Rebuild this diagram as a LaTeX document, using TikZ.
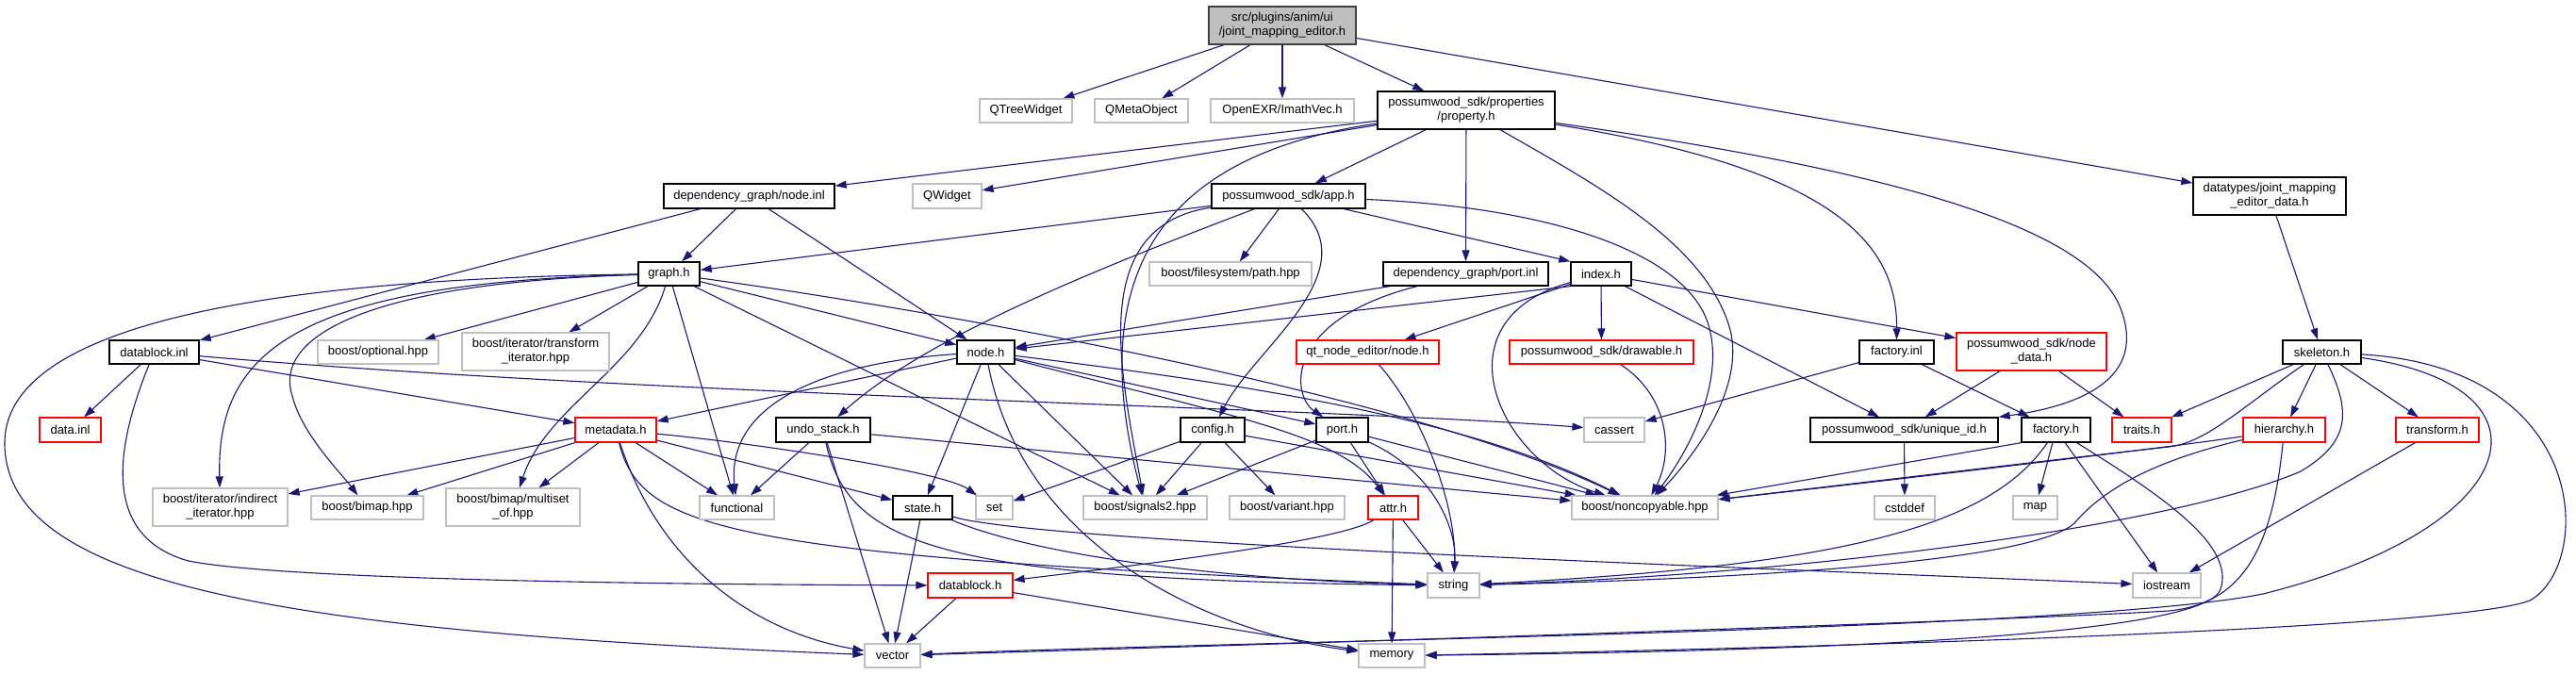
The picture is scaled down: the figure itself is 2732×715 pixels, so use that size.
\documentclass[tikz,border=0pt]{standalone}
\usepackage{fontspec}
\newfontfamily\lsans{Liberation Sans}
\usetikzlibrary{arrows.meta}
\definecolor{edgeblue}{HTML}{191970}
\definecolor{lgray}{HTML}{BFBFBF}
\definecolor{dgray}{HTML}{404040}
\definecolor{rootgray}{HTML}{BFBFBF}
\definecolor{redb}{HTML}{FF0000}
\pgfdeclarelayer{bg}
\pgfsetlayers{bg,main}
\tikzset{
  base/.style={rectangle, inner sep=0pt, font=\lsans\fontsize{13}{15}\selectfont, align=center, fill=white, text=black},
  bn/.style={base, draw=black, line width=1.4pt},
  gn/.style={base, draw=lgray, line width=1.2pt},
  rn/.style={base, draw=redb, line width=1.2pt},
  rootn/.style={base, draw=dgray, fill=rootgray, line width=1.4pt},
  sz/.style 2 args={minimum width=#1pt, minimum height=#2pt},
  dep/.style={draw=edgeblue, line width=1.1pt, -{Triangle[length=12pt,width=8pt]}}
}
\begin{document}
\begin{tikzpicture}[x=1pt,y=-1pt]
\useasboundingbox (0,0) rectangle (2732,715);
% nodes
\node[rootn, sz={156}{40}] (root) at (1360,27) {src/plugins/anim/ui\\/joint\_mapping\_editor.h};
\node[gn, sz={98}{25}] (qtree) at (1088,117.5) {QTreeWidget};
\node[gn, sz={99}{25}] (qmeta) at (1210.5,117.5) {QMetaObject};
\node[gn, sz={152}{25}] (imath) at (1360,117.5) {OpenEXR/ImathVec.h};
\node[bn, sz={188}{40}] (prop) at (1555,117) {possumwood\_sdk/properties\\/property.h};
\node[bn, sz={162}{40}] (dtypes) at (2407,208) {datatypes/joint\_mapping\\\_editor\_data.h};
\node[bn, sz={181}{26}] (nodeinl) at (794.5,208) {dependency\_graph/node.inl};
\node[gn, sz={73}{26}] (qwidget) at (1004.5,208) {QWidget};
\node[bn, sz={163}{26}] (app) at (1366.5,208) {possumwood\_sdk/app.h};
\node[bn, sz={65}{25}] (graph) at (709.5,290.5) {graph.h};
\node[gn, sz={172}{25}] (fspath) at (1305,290.5) {boost/filesystem/path.hpp};
\node[bn, sz={175}{25}] (portinl) at (1554.5,290.5) {dependency\_graph/port.inl};
\node[bn, sz={64}{25}] (index) at (1698,290.5) {index.h};
\node[bn, sz={95}{25}] (dblinl) at (163.5,373.5) {datablock.inl};
\node[gn, sz={128}{25}] (optional) at (401,373.5) {boost/optional.hpp};
\node[gn, sz={156}{40}] (transit) at (568,373) {boost/iterator/transform\\\_iterator.hpp};
\node[bn, sz={61}{25}] (nodeh) at (1045.5,373.5) {node.h};
\node[rn, sz={151}{25}] (qtnode) at (1450.5,373.5) {qt\_node\_editor/node.h};
\node[rn, sz={195}{25}] (drawable) at (1698.5,373.5) {possumwood\_sdk/drawable.h};
\node[bn, sz={79}{25}] (factinl) at (2011.5,373.5) {factory.inl};
\node[rn, sz={159}{40}] (nodedata) at (2154.5,373) {possumwood\_sdk/node\\\_data.h};
\node[bn, sz={83}{25}] (skeleton) at (2462.5,373.5) {skeleton.h};
\node[rn, sz={65}{26}] (datainl) at (74.5,456) {data.inl};
\node[rn, sz={86}{26}] (metadata) at (653,456) {metadata.h};
\node[bn, sz={100}{26}] (undo) at (873,456) {undo\_stack.h};
\node[bn, sz={68}{26}] (config) at (1286,456) {config.h};
\node[bn, sz={55}{26}] (porth) at (1423.5,456) {port.h};
\node[gn, sz={64}{26}] (cassert) at (1712,456) {cassert};
\node[bn, sz={199}{26}] (uid) at (2019.5,456) {possumwood\_sdk/unique\_id.h};
\node[bn, sz={73}{26}] (facth) at (2180.5,456) {factory.h};
\node[rn, sz={63}{26}] (traits) at (2271.5,456) {traits.h};
\node[rn, sz={87}{26}] (hier) at (2422.5,456) {hierarchy.h};
\node[rn, sz={88}{26}] (transform) at (2585,456) {transform.h};
\node[gn, sz={143}{40}] (indirect) at (233.5,538) {boost/iterator/indirect\\\_iterator.hpp};
\node[gn, sz={119}{25}] (bimap) at (389.5,538.5) {boost/bimap.hpp};
\node[gn, sz={142}{40}] (multiset) at (544,538) {boost/bimap/multiset\\\_of.hpp};
\node[gn, sz={79}{25}] (functional) at (781.5,538.5) {functional};
\node[bn, sz={63}{25}] (state) at (978.5,538.5) {state.h};
\node[gn, sz={39}{25}] (set) at (1054.5,538.5) {set};
\node[gn, sz={131}{25}] (signals) at (1214.5,538.5) {boost/signals2.hpp};
\node[gn, sz={122}{25}] (variant) at (1365,538.5) {boost/variant.hpp};
\node[rn, sz={53}{25}] (attr) at (1477.5,538.5) {attr.h};
\node[gn, sz={155}{25}] (noncopy) at (1744.5,538.5) {boost/noncopyable.hpp};
\node[gn, sz={64}{25}] (cstddef) at (2020,538.5) {cstddef};
\node[gn, sz={47}{25}] (map) at (2158.5,538.5) {map};
\node[rn, sz={90}{26}] (dblh) at (1029,621) {datablock.h};
\node[gn, sz={55}{26}] (string) at (1541.5,621) {string};
\node[gn, sz={72}{26}] (iostream) at (2298,621) {iostream};
\node[gn, sz={59}{25}] (vector) at (946.5,695.5) {vector};
\node[gn, sz={70}{25}] (memory) at (1476,695.5) {memory};
\begin{pgfonlayer}{bg}
% root
\draw[dep] (root) -- (qtree);
\draw[dep] (root) -- (qmeta);
\draw[dep] (root) -- (imath);
\draw[dep] (root) -- (prop);
\draw[dep] (root) -- (dtypes);
% property.h
\draw[dep] (prop) -- (nodeinl);
\draw[dep] (prop) -- (qwidget);
\draw[dep] (prop) -- (app);
\draw[dep] (prop) -- (portinl);
\draw[dep] (prop) .. controls (1230,165) and (1150,290) .. (signals);
\draw[dep] (prop) .. controls (1700,200) and (1810,260) .. (1835,350) .. controls (1850,410) and (1800,480) .. (noncopy);
\draw[dep] (prop) .. controls (1950,180) and (2012,260) .. (factinl);
\draw[dep] (prop) .. controls (2000,180) and (2220,240) .. (2250,330) .. controls (2275,400) and (2210,430) .. (uid);
% datatypes
\draw[dep] (dtypes) -- (skeleton);
% node.inl
\draw[dep] (nodeinl) -- (graph);
\draw[dep] (nodeinl) -- (nodeh);
\draw[dep] (nodeinl) -- (dblinl);
% app.h
\draw[dep] (app) -- (graph);
\draw[dep] (app) -- (fspath);
\draw[dep] (app) -- (index.north west);
\draw[dep] (app) .. controls (1150,290) and (980,360) .. (undo);
\draw[dep] (app) .. controls (1450,290) and (1330,370) .. (config);
\draw[dep] (app) .. controls (1150,240) and (1190,400) .. (signals);
\draw[dep] (app) .. controls (1650,220) and (1790,270) .. (1812,345) .. controls (1830,405) and (1790,480) .. (noncopy);
% graph.h
\draw[dep] (graph) .. controls (350,295) and (5,330) .. (5,470) .. controls (5,620) and (300,670) .. (vector);
\draw[dep] (graph) .. controls (300,300) and (230,380) .. (indirect);
\draw[dep] (graph) .. controls (380,300) and (290,360) .. (310,420) .. controls (320,460) and (360,500) .. (bimap);
\draw[dep] (graph) -- (optional);
\draw[dep] (graph) -- (transit);
\draw[dep] (graph) .. controls (680,390) and (580,430) .. (multiset);
\draw[dep] (graph) -- (functional);
\draw[dep] (graph) -- (nodeh);
\draw[dep] (graph) -- (signals);
\draw[dep] (graph) .. controls (1000,330) and (1500,420) .. (noncopy);
% port.inl
\draw[dep] (portinl) -- (nodeh);
\draw[dep] (portinl) .. controls (1360,340) and (1370,420) .. (porth);
% index.h
\draw[dep] (index.south west) -- (nodeh);
\draw[dep] (index) -- (qtnode);
\draw[dep] (index) -- (drawable);
\draw[dep] (index) -- (nodedata);
\draw[dep] (index) -- (uid);
\draw[dep] (index) .. controls (1520,340) and (1590,490) .. (noncopy);
% datablock.inl
\draw[dep] (dblinl) -- (datainl);
\draw[dep] (dblinl) -- (metadata);
\draw[dep] (dblinl) .. controls (700,420) and (1400,432) .. (cassert);
\draw[dep] (dblinl) .. controls (120,480) and (110,570) .. (200,595) .. controls (300,615) and (700,620) .. (dblh);
% node.h
\draw[dep] (nodeh) -- (metadata);
\draw[dep] (nodeh) .. controls (870,385) and (770,430) .. (functional);
\draw[dep] (nodeh) -- (state);
\draw[dep] (nodeh) .. controls (1085,580) and (1280,670) .. (memory);
\draw[dep] (nodeh) -- (signals);
\draw[dep] (nodeh) -- (porth);
\draw[dep] (nodeh) .. controls (1300,440) and (1420,460) .. (attr);
\draw[dep] (nodeh) .. controls (1300,405) and (1550,440) .. (noncopy);
% factory.inl
\draw[dep] (factinl) -- (cassert);
\draw[dep] (factinl) -- (facth);
% node_data.h
\draw[dep] (nodedata) -- (uid);
\draw[dep] (nodedata) -- (traits);
% skeleton.h
\draw[dep] (skeleton) -- (traits);
\draw[dep] (skeleton) .. controls (2380,430) and (2340,470) .. (2300,474) .. controls (2200,485) and (1950,515) .. (noncopy);
\draw[dep] (skeleton) -- (hier);
\draw[dep] (skeleton) -- (transform);
\draw[dep] (skeleton) .. controls (2495,440) and (2490,470) .. (2440,500) .. controls (2300,560) and (1900,610) .. (string);
\draw[dep] (skeleton) .. controls (2720,410) and (2680,560) .. (2400,630) .. controls (2200,670) and (1300,680) .. (vector);
\draw[dep] (skeleton) .. controls (2750,390) and (2750,600) .. (2683,637) .. controls (2600,670) and (1800,690) .. (memory);
% hierarchy.h
\draw[dep] (hier) .. controls (2300,475) and (2000,510) .. (noncopy);
\draw[dep] (hier) .. controls (2280,490) and (2230,520) .. (2200,555) .. controls (2150,600) and (1800,615) .. (string);
\draw[dep] (hier) .. controls (2410,580) and (2380,640) .. (2300,648) .. controls (2100,660) and (1300,685) .. (vector);
% transform.h
\draw[dep] (transform) -- (iostream);
% unique_id.h
\draw[dep] (uid) -- (cstddef);
% factory.h
\draw[dep] (facth.south west) -- (noncopy);
\draw[dep] (facth) .. controls (2110,560) and (1950,600) .. (string);
\draw[dep] (facth) -- (map);
\draw[dep] (facth) -- (iostream);
\draw[dep] (facth) .. controls (2300,530) and (2370,580) .. (2355,625) .. controls (2340,670) and (2000,690) .. (memory);
% qt node
\draw[dep] (qtnode) .. controls (1510,440) and (1545,540) .. (string);
% drawable
\draw[dep] (drawable) .. controls (1770,420) and (1775,480) .. (noncopy);
% metadata.h
\draw[dep] (metadata) -- (indirect);
\draw[dep] (metadata) -- (bimap);
\draw[dep] (metadata) -- (multiset);
\draw[dep] (metadata) -- (functional);
\draw[dep] (metadata) -- (state);
\draw[dep] (metadata) .. controls (800,470) and (1000,500) .. (set);
\draw[dep] (metadata) .. controls (680,560) and (760,590) .. (string);
\draw[dep] (metadata) .. controls (700,600) and (800,670) .. (vector);
% undo_stack.h
\draw[dep] (undo) -- (functional);
\draw[dep] (undo) -- (noncopy);
\draw[dep] (undo) -- (vector);
\draw[dep] (undo) .. controls (900,580) and (1000,615) .. (string);
% config.h
\draw[dep] (config) -- (set);
\draw[dep] (config) -- (signals);
\draw[dep] (config) -- (variant);
\draw[dep] (config) -- (noncopy);
% port.h
\draw[dep] (porth) -- (attr);
\draw[dep] (porth) .. controls (1520,500) and (1545,560) .. (string);
\draw[dep] (porth) -- (noncopy);
\draw[dep] (porth) -- (signals);
% attr.h
\draw[dep] (attr) .. controls (1420,575) and (1200,600) .. (dblh);
\draw[dep] (attr) -- (memory);
\draw[dep] (attr) -- (string);
% state.h
\draw[dep] (state) -- (vector);
\draw[dep] (state) .. controls (1100,590) and (1300,615) .. (string);
\draw[dep] (state) .. controls (1100,575) and (1800,600) .. (iostream);
% datablock.h
\draw[dep] (dblh) -- (vector);
\draw[dep] (dblh) -- (memory);
\end{pgfonlayer}
\end{tikzpicture}
\end{document}
